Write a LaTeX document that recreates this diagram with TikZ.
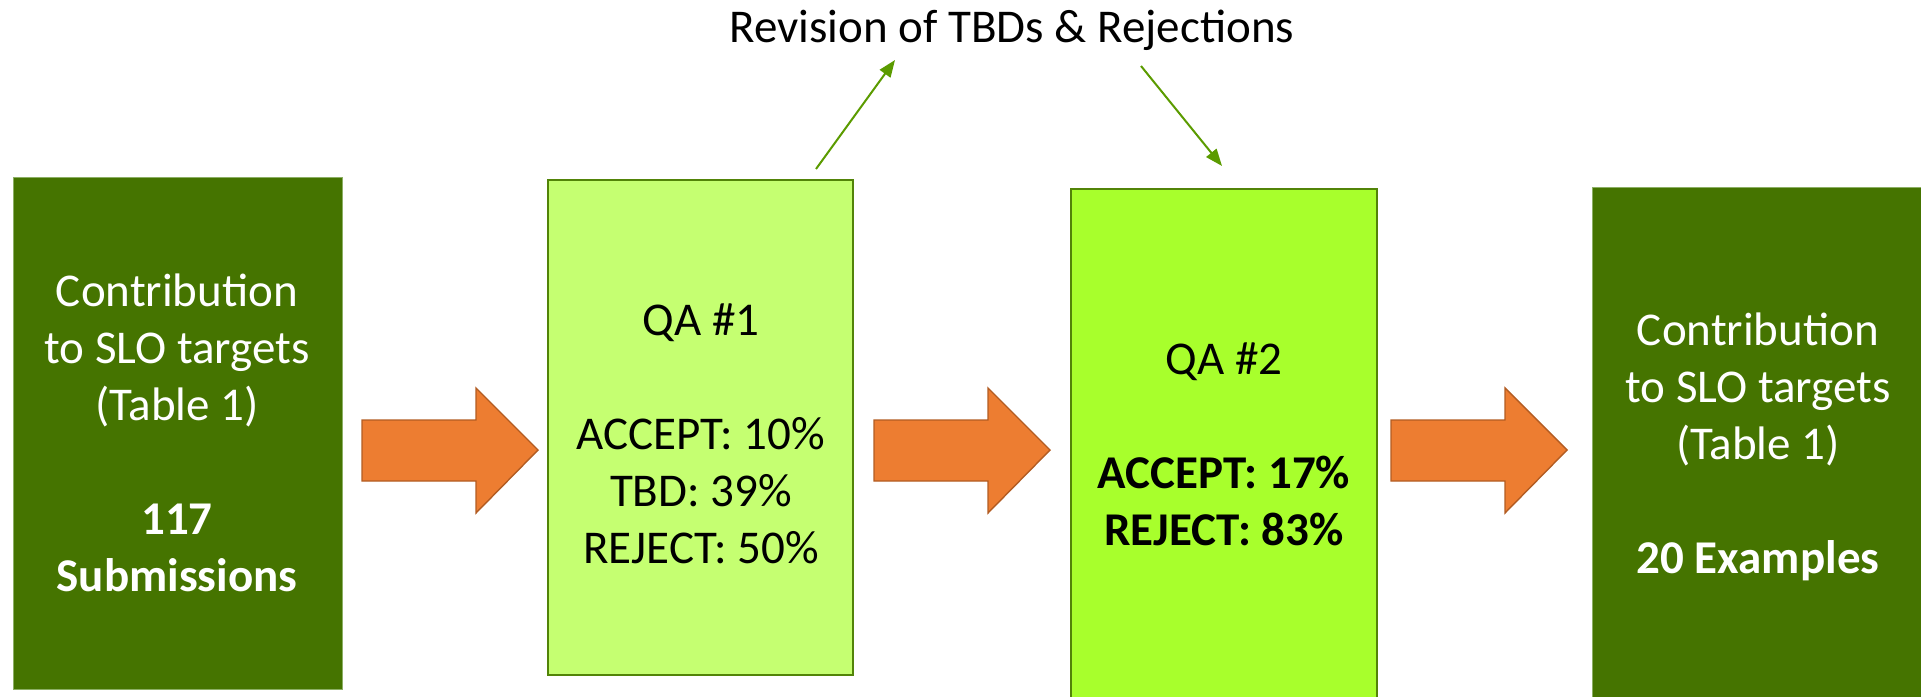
\documentclass[tikz,border=0pt]{standalone}
\usepackage{fontspec}
\setmainfont{Carlito}
\usetikzlibrary{arrows.meta}
\definecolor{darkgreen}{RGB}{69,116,0}
\definecolor{paleedge}{RGB}{140,175,100}
\definecolor{lightA}{RGB}{197,255,113}
\definecolor{lightB}{RGB}{168,255,44}
\definecolor{boxedge}{RGB}{82,132,8}
\definecolor{orangefill}{RGB}{237,125,49}
\definecolor{orangeedge}{RGB}{178,92,34}
\definecolor{linkgreen}{RGB}{91,155,0}
\tikzset{
  darkbox/.style={rectangle, fill=darkgreen, draw=paleedge, line width=0.5pt, inner sep=0pt},
  qabox/.style={rectangle, draw=boxedge, line width=1.3pt, inner sep=0pt},
  txt/.style={font=\fontsize{23.5pt}{28.5pt}\selectfont, align=center, anchor=base, inner sep=0pt},
  whitetxt/.style={txt, text=white},
  blocky/.style={fill=orangefill, draw=orangeedge, line width=0.7pt, line join=miter},
  link/.style={draw=linkgreen, line width=1pt, -{Triangle[length=8.5pt,width=6.5pt]}}
}
\newcommand{\blockarrow}[1]{%
  \path[blocky] (#1,420) -- (#1+114,420) -- (#1+114,388) -- (#1+176,450)
    -- (#1+114,513) -- (#1+114,481) -- (#1,481) -- cycle;}
\begin{document}
\begin{tikzpicture}[x=0.5pt,y=-0.5pt]
\useasboundingbox (0,0) rectangle (1921,696);
\begin{scope}
\clip (0,0) rectangle (1921,696);
\node[darkbox, minimum width=164.5pt, minimum height=256pt] (src) at (177.5,433) {};
\node[qabox, fill=lightA, minimum width=152.5pt, minimum height=247.5pt] (qa1) at (700.5,427.5) {};
\node[qabox, fill=lightB, minimum width=153pt, minimum height=265.5pt] (qa2) at (1224,454.5) {};
\node[darkbox, minimum width=179pt, minimum height=266.5pt] (out) at (1771,453.5) {};
\end{scope}

\node[whitetxt] (srctext) at (177,591) {Contribution\\to SLO targets\\(Table 1)\\[28.5pt]\textbf{117}\\\textbf{Submissions}};
\node[txt] (qa1text) at (701,563) {QA \#1\\[28.5pt]ACCEPT: 10\%\\TBD: 39\%\\REJECT: 50\%};
\node[txt] (qa2text) at (1224,545) {QA \#2\\[28.5pt]\textbf{ACCEPT: 17\%}\\\textbf{REJECT: 83\%}};
\node[whitetxt] (outtext) at (1758,573) {Contribution\\to SLO targets\\(Table 1)\\[28.5pt]\textbf{20 Examples}};

\node[txt] (rev) at (1012,42) {Revision of TBDs \& Rejections};

\blockarrow{362}
\blockarrow{874}
\blockarrow{1391}

\coordinate (up1) at (816,169);
\coordinate (up2) at (895,60);
\coordinate (down1) at (1141,66);
\coordinate (down2) at (1222,166);
\draw[link] (up1) -- (up2);
\draw[link] (down1) -- (down2);
\end{tikzpicture}
\end{document}
